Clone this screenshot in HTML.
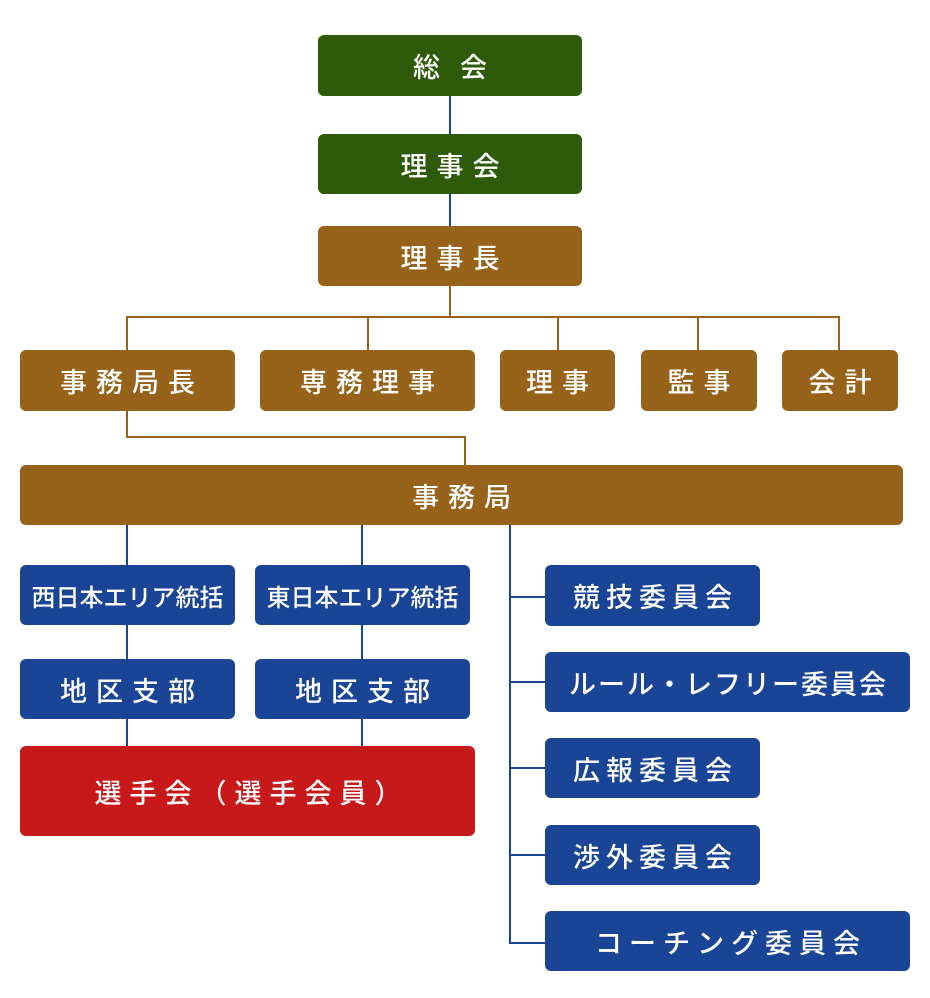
<!DOCTYPE html>
<html><head><meta charset="utf-8"><style>
body{margin:0;width:930px;height:998px;background:#fff;position:relative;overflow:hidden;font-family:"Liberation Sans","Noto Sans CJK JP",sans-serif}
.b{position:absolute;color:#fff;border-radius:6px;display:flex;align-items:center;justify-content:center;font-size:27px;font-weight:500;letter-spacing:9px;text-indent:9px}
.g{background:#2e5a0a}.br{background:#97631a}.bl{background:#1a4495}.r{background:#c8191a}
.l{position:absolute}
.lb{background:#97631a}.ll{background:#1a4495}
</style></head><body>
<div class="l ll" style="left:449px;top:96px;width:2px;height:38px"></div>
<div class="l ll" style="left:449px;top:194px;width:2px;height:32px"></div>
<div class="l lb" style="left:449px;top:286px;width:2px;height:32px"></div>
<div class="l lb" style="left:126px;top:316px;width:714px;height:2px"></div>
<div class="l lb" style="left:126px;top:316px;width:2px;height:34px"></div>
<div class="l lb" style="left:367px;top:316px;width:2px;height:34px"></div>
<div class="l lb" style="left:557px;top:316px;width:2px;height:34px"></div>
<div class="l lb" style="left:697px;top:316px;width:2px;height:34px"></div>
<div class="l lb" style="left:838px;top:316px;width:2px;height:34px"></div>
<div class="l lb" style="left:126px;top:410px;width:2px;height:28px"></div>
<div class="l lb" style="left:126px;top:436px;width:340px;height:2px"></div>
<div class="l lb" style="left:464px;top:436px;width:2px;height:30px"></div>
<div class="l ll" style="left:126px;top:525px;width:2px;height:222px"></div>
<div class="l ll" style="left:361px;top:525px;width:2px;height:222px"></div>
<div class="l ll" style="left:509px;top:525px;width:2px;height:419px"></div>
<div class="l ll" style="left:509px;top:596px;width:36px;height:2px"></div>
<div class="l ll" style="left:509px;top:681px;width:36px;height:2px"></div>
<div class="l ll" style="left:509px;top:767px;width:36px;height:2px"></div>
<div class="l ll" style="left:509px;top:854px;width:36px;height:2px"></div>
<div class="l ll" style="left:509px;top:942px;width:36px;height:2px"></div>

<div class="b g" style="left:318px;top:35px;width:264px;height:61px;letter-spacing:20px;text-indent:20px">総会</div>
<div class="b g" style="left:318px;top:134px;width:264px;height:60px">理事会</div>
<div class="b br" style="left:318px;top:226px;width:264px;height:60px">理事長</div>
<div class="b br" style="left:20px;top:350px;width:215px;height:61px">事務局長</div>
<div class="b br" style="left:260px;top:350px;width:215px;height:61px">専務理事</div>
<div class="b br" style="left:500px;top:350px;width:115px;height:61px">理事</div>
<div class="b br" style="left:641px;top:350px;width:116px;height:61px">監事</div>
<div class="b br" style="left:782px;top:350px;width:116px;height:61px">会計</div>
<div class="b br" style="left:20px;top:465px;width:883px;height:60px">事務局</div>
<div class="b bl" style="left:20px;top:565px;width:215px;height:60px;font-size:24px;letter-spacing:0;text-indent:0">西日本エリア統括</div>
<div class="b bl" style="left:255px;top:565px;width:215px;height:60px;font-size:24px;letter-spacing:0;text-indent:0">東日本エリア統括</div>
<div class="b bl" style="left:20px;top:659px;width:215px;height:60px">地区支部</div>
<div class="b bl" style="left:255px;top:659px;width:215px;height:60px">地区支部</div>
<div class="b r" style="left:20px;top:746px;width:455px;height:90px;letter-spacing:8px">選手会（選手会員）</div>
<div class="b bl" style="left:545px;top:565px;width:215px;height:61px;letter-spacing:6px;text-indent:6px">競技委員会</div>
<div class="b bl" style="left:545px;top:652px;width:365px;height:60px;letter-spacing:2px;text-indent:2px">ルール・レフリー委員会</div>
<div class="b bl" style="left:545px;top:738px;width:215px;height:60px;letter-spacing:6px;text-indent:6px">広報委員会</div>
<div class="b bl" style="left:545px;top:825px;width:215px;height:60px;letter-spacing:6px;text-indent:6px">渉外委員会</div>
<div class="b bl" style="left:545px;top:911px;width:365px;height:60px;letter-spacing:7px;text-indent:7px">コーチング委員会</div>
</body></html>
